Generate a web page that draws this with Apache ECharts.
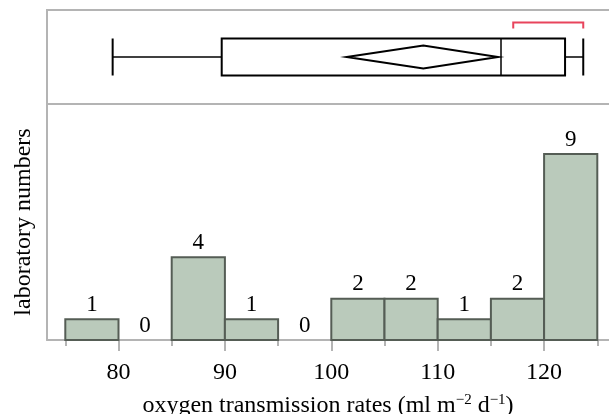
<!DOCTYPE html>
<html>
<head>
<meta charset="utf-8">
<script src="https://cdn.jsdelivr.net/npm/echarts@6/dist/echarts.min.js"></script>
<style>
html,body{margin:0;padding:0;background:#fff;}
#chart{width:609px;height:414px;}
</style>
</head>
<body>
<div id="chart"></div>
<script>
// ---- data ----
var binStarts = [75, 80, 85, 90, 95, 100, 105, 110, 115, 120];
var binWidth = 5;
var counts = [1, 0, 4, 1, 0, 2, 2, 1, 2, 9];
var tickLabels = [80, 90, 100, 110, 120];
var minorTicks = [75, 85, 95, 105, 115, 125];
// boxplot: lower whisker, Q1, median, Q3, upper whisker
var boxStats = [79.45, 89.7, 115.95, 121.97, 123.68];
// mean diamond: lower CI, mean, upper CI
var meanDiamond = [101.45, 108.65, 115.67];
// shortest half bracket
var shortestHalf = [117.1, 123.68];

var X_MIN = 73.28, X_MAX = 126.1;
// top panel extends 4px past the right edge (to hide its right border)
var X_MAX_TOP = X_MAX + 4 * (X_MAX - X_MIN) / 562;
var FONT = 'Liberation Serif';

var histData = binStarts.map(function (s, i) { return [s, s + binWidth, counts[i]]; });

var chart = echarts.init(document.getElementById('chart'), null, {renderer: 'canvas'});

var option = {
  animation: false,
  backgroundColor: '#fff',
  grid: [
    {left: 47, right: -4, top: 10, height: 94, show: true, borderColor: '#b4b4b4', borderWidth: 2, backgroundColor: 'transparent',
     containLabel: false, outerBoundsMode: 'none'},
    {left: 47, right: 0, top: 104, bottom: 74, show: false, containLabel: false, outerBoundsMode: 'none'}
  ],
  xAxis: [
    {gridIndex: 0, type: 'value', min: X_MIN, max: X_MAX_TOP, show: false},
    {gridIndex: 1, type: 'value', min: X_MIN, max: X_MAX, position: 'bottom',
     axisLine: {show: true, lineStyle: {color: '#b4b4b4', width: 2}},
     axisTick: {show: true, length: 11, lineStyle: {color: '#b4b4b4', width: 2}, customValues: tickLabels},
     axisLabel: {show: true, customValues: tickLabels, margin: 21, color: '#000', fontFamily: FONT, fontSize: 24,
                 formatter: function (v) { return String(v); }},
     splitLine: {show: false},
     name: 'oxygen transmission rates (ml m{sup|\u22122} d{sup|\u22121})',
     nameLocation: 'middle', nameGap: 53,
     nameTextStyle: {color: '#000', fontFamily: FONT, fontSize: 24, lineHeight: 26,
       rich: {sup: {fontFamily: FONT, fontSize: 15, verticalAlign: 'top', lineHeight: 26, color: '#000'}}}
    },
    {gridIndex: 1, type: 'value', min: X_MIN, max: X_MAX, position: 'bottom', offset: 0,
     axisLine: {show: false},
     axisTick: {show: true, length: 6, lineStyle: {color: '#b4b4b4', width: 2}, customValues: minorTicks},
     axisLabel: {show: false},
     splitLine: {show: false}
    }
  ],
  yAxis: [
    {gridIndex: 0, type: 'value', min: 0, max: 1, show: false},
    {gridIndex: 1, type: 'value', min: 0, max: 11.42,
     axisLine: {show: true, lineStyle: {color: '#b4b4b4', width: 2}},
     axisTick: {show: false}, axisLabel: {show: false}, splitLine: {show: false},
     name: 'laboratory numbers', nameLocation: 'middle', nameRotate: 90, nameGap: 11,
     nameTextStyle: {color: '#000', fontFamily: FONT, fontSize: 24}
    }
  ],
  series: [
    {
      type: 'custom',
      xAxisIndex: 0, yAxisIndex: 0,
      data: [[0]],
      renderItem: function (params, api) {
        var cy = api.coord([boxStats[2], 0.5])[1];
        function px(v) { return api.coord([v, 0.5])[0]; }
        var bh = 18.5, dh = 11.5;
        var black = '#000';
        var children = [];
        // whiskers
        children.push({type: 'line', shape: {x1: px(boxStats[0]), y1: cy, x2: px(boxStats[1]), y2: cy}, style: {stroke: black, lineWidth: 1.5}});
        children.push({type: 'line', shape: {x1: px(boxStats[3]), y1: cy, x2: px(boxStats[4]), y2: cy}, style: {stroke: black, lineWidth: 1.5}});
        children.push({type: 'line', shape: {x1: px(boxStats[0]), y1: cy - bh, x2: px(boxStats[0]), y2: cy + bh}, style: {stroke: black, lineWidth: 2}});
        children.push({type: 'line', shape: {x1: px(boxStats[4]), y1: cy - bh, x2: px(boxStats[4]), y2: cy + bh}, style: {stroke: black, lineWidth: 2}});
        // box
        children.push({type: 'rect', shape: {x: px(boxStats[1]), y: cy - bh, width: px(boxStats[3]) - px(boxStats[1]), height: 2 * bh}, style: {fill: 'none', stroke: black, lineWidth: 2}});
        // median
        children.push({type: 'line', shape: {x1: px(boxStats[2]), y1: cy - bh, x2: px(boxStats[2]), y2: cy + bh}, style: {stroke: black, lineWidth: 1.5}});
        // diamond
        children.push({type: 'polygon', shape: {points: [[px(meanDiamond[0]), cy], [px(meanDiamond[1]), cy - dh], [px(meanDiamond[2]), cy], [px(meanDiamond[1]), cy + dh]]}, style: {fill: 'none', stroke: black, lineWidth: 2}});
        // shortest half bracket
        var by = cy - 34.6;
        children.push({type: 'polyline', shape: {points: [[px(shortestHalf[0]), by + 6], [px(shortestHalf[0]), by], [px(shortestHalf[1]), by], [px(shortestHalf[1]), by + 6]]}, style: {fill: 'none', stroke: '#e8445c', lineWidth: 2}});
        return {type: 'group', children: children};
      },
      silent: true
    },
    {
      type: 'custom',
      xAxisIndex: 1, yAxisIndex: 1,
      data: histData,
      encode: {x: [0, 1], y: 2},
      renderItem: function (params, api) {
        var lo = api.value(0), hi = api.value(1), c = api.value(2);
        var p0 = api.coord([lo, c]);
        var p1 = api.coord([hi, 0]);
        var children = [];
        if (c > 0) {
          children.push({type: 'rect', shape: {x: p0[0], y: p0[1], width: p1[0] - p0[0], height: p1[1] - p0[1]},
            style: {fill: '#bacabb', stroke: '#555d55', lineWidth: 2}});
        }
        children.push({type: 'text', x: (p0[0] + p1[0]) / 2, y: p0[1] - 3,
          style: {text: String(c), fill: '#000', font: '23px "' + FONT + '"', align: 'center', verticalAlign: 'bottom'}});
        return {type: 'group', children: children};
      },
      silent: true
    }
  ]
};
chart.setOption(option);
</script>
</body>
</html>
